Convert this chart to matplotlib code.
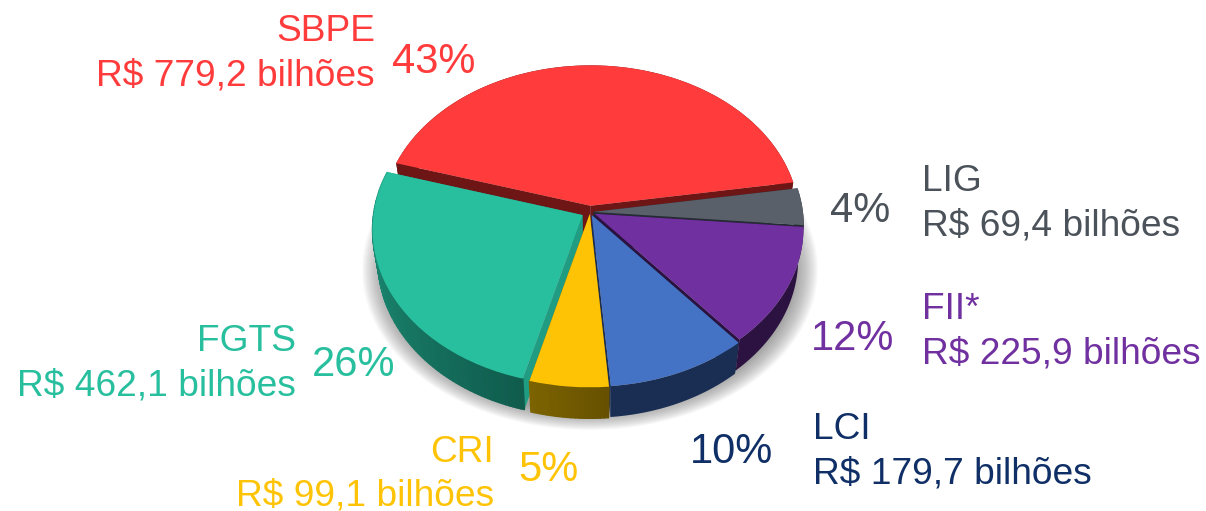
import numpy as np
import matplotlib
matplotlib.use("Agg")
import matplotlib.pyplot as plt
from matplotlib.transforms import Transform
from matplotlib.patches import Ellipse
from matplotlib.colors import to_rgb

plt.rcParams['font.family'] = ['Liberation Sans', 'DejaVu Sans']

categories = ['SBPE', 'FGTS', 'CRI', 'LCI', 'FII*', 'LIG']
values = [779.2, 462.1, 99.1, 179.7, 225.9, 69.4]
percent_labels = ['43%', '26%', '5%', '10%', '12%', '4%']
value_labels = ['R$ 779,2 bilhões', 'R$ 462,1 bilhões', 'R$ 99,1 bilhões',
                'R$ 179,7 bilhões', 'R$ 225,9 bilhões', 'R$ 69,4 bilhões']
colors = ['#FF3B3B', '#28BF9E', '#FFC305', '#4472C4', '#7030A0', '#596069']
text_colors = ['#FF3B3B', '#28BF9E', '#FFC305', '#0F2F66', '#7030A0', '#4B525A']
wall_left = ['#6E1616', '#1F9C81', '#7D6400', '#1A2D52', '#2B1240', '#262B33']
wall_right = ['#6E1616', '#105C4D', '#665000', '#1A2D52', '#2B1240', '#262B33']
explode = [0.04, 0.04, 0.012, 0.02, 0.025, 0.015]
radii = [0.98, 0.98, 1, 0.99, 0.975, 0.985]
# back-to-front painting order (indices into the arrays above)
paint_order = [0, 5, 4, 1, 3, 2]

CX, CY, RX, RY, K, DEPTH, SHRINK = 590.0, 212.0, 213.0, 157.2, 0.0915, 31.0, 0.975


class Tilt(Transform):
    input_dims = 2
    output_dims = 2

    def transform_non_affine(self, xy):
        xy = np.asarray(xy, dtype=float)
        w = 1 + K * xy[:, 1]
        return np.column_stack((CX + RX * xy[:, 0] / w, CY - RY * xy[:, 1] / w))


tilt = Tilt()
fig = plt.figure(figsize=(12.06, 5.11), dpi=100)
ax = fig.add_axes([0, 0, 1, 1])
wedges, _ = ax.pie(values, colors=colors, explode=explode, startangle=8.9,
                   counterclock=True, wedgeprops={'linewidth': 0})
ax.set_aspect('auto')
ax.set_xlim(0, 1206)
ax.set_ylim(511, 0)
ax.axis('off')

# soft ground shadow
for i, t in enumerate(np.linspace(1.0, 0.0, 26)):
    ax.add_patch(Ellipse((CX, 270), 2 * (204 + 24 * t), 2 * (142 + 18 * t),
                         facecolor='#6A6A6A', edgecolor='none', alpha=0.032, zorder=1))


def wall_points(wedge, theta):
    th = np.radians(theta)
    pts = np.column_stack((wedge.center[0] + wedge.r * np.cos(th),
                           wedge.center[1] + wedge.r * np.sin(th)))
    return tilt.transform_non_affine(pts)


def lowered(p):
    return np.column_stack((CX + (p[:, 0] - CX) * SHRINK, p[:, 1] + DEPTH))


for rank, i in enumerate(paint_order):
    w = wedges[i]
    z = 5 + 2 * rank
    w.set_radius(radii[i])
    w.set_transform(tilt + ax.transData)
    w.set_zorder(z + 1)
    apex = tilt.transform_non_affine(np.array([w.center]))
    for theta in (w.theta1, w.theta2):
        rim = wall_points(w, np.array([theta]))
        quad = np.vstack((apex, rim, lowered(rim), lowered(apex)))
        ax.fill(quad[:, 0], quad[:, 1], color=wall_left[i], lw=0, zorder=z)
    ths = np.linspace(w.theta1, w.theta2, max(int(w.theta2 - w.theta1), 2) + 1)
    rim = wall_points(w, ths)
    low = lowered(rim)
    if wall_left[i] == wall_right[i]:
        # one solid outer wall
        poly = np.vstack((rim, low[::-1]))
        ax.fill(poly[:, 0], poly[:, 1], color=wall_left[i], lw=0, zorder=z)
        continue
    # outer wall in narrow strips so that it darkens along the rim
    c0, c1 = np.array(to_rgb(wall_left[i])), np.array(to_rgb(wall_right[i]))
    for j in range(len(ths) - 1):
        f = (j + 0.5) / (len(ths) - 1)
        xs = [rim[j, 0], rim[j + 1, 0], low[j + 1, 0], low[j, 0]]
        ys = [rim[j, 1], rim[j + 1, 1], low[j + 1, 1], low[j, 1]]
        col = c0 + (c1 - c0) * f
        ax.fill(xs, ys, facecolor=col, edgecolor=col, lw=1.0, zorder=z)

FS, FP = 26.7, 30
name_pos = [(375, 41, 'right'), (296, 351, 'right'), (494, 462, 'right'),
            (813, 439, 'left'), (922, 319, 'left'), (922, 191, 'left')]
value_pos = [(375, 86, 'right'), (296, 396, 'right'), (494, 505, 'right'),
             (813, 484, 'left'), (922, 364, 'left'), (922, 236, 'left')]
pct_pos = [(392, 73), (312, 376), (518, 481), (690, 463), (811, 350), (830, 222)]
for i in range(len(categories)):
    ax.text(name_pos[i][0], name_pos[i][1], categories[i], color=text_colors[i], fontsize=FS,
            ha=name_pos[i][2], va='baseline', zorder=30)
    ax.text(value_pos[i][0], value_pos[i][1], value_labels[i], color=text_colors[i], fontsize=FS,
            ha=value_pos[i][2], va='baseline', zorder=30)
    ax.text(pct_pos[i][0], pct_pos[i][1], percent_labels[i], color=text_colors[i], fontsize=FP,
            ha='left', va='baseline', zorder=30)

fig.savefig('out.png', dpi=100)
